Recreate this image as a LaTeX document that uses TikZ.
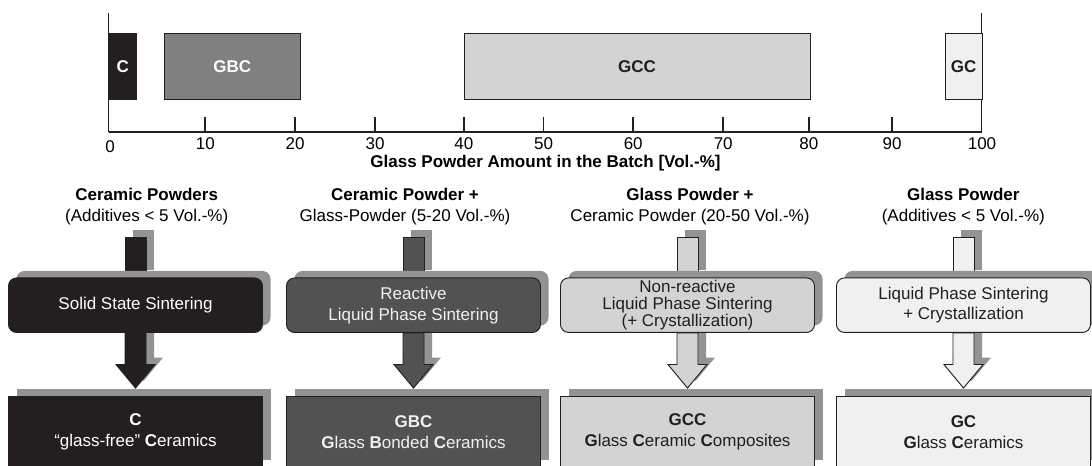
\documentclass[tikz,border=0pt]{standalone}
\usepackage{fontspec}
\setmainfont{Liberation Sans}
\usetikzlibrary{calc,backgrounds}

\definecolor{inkc}{HTML}{231F20}
\definecolor{darkgc}{HTML}{525252}
\definecolor{midgc}{HTML}{808080}
\definecolor{lightgc}{HTML}{D3D3D3}
\definecolor{palegc}{HTML}{F0F0F0}
\definecolor{shadowc}{HTML}{939393}

% one drawing unit = 0.75pt
\newcommand\pxu{0.75pt}

\tikzset{
  basefont/.style={font=\fontsize{12.75}{15.75}\selectfont},
  axisline/.style={draw=inkc, line width=1.3pt},
  sideline/.style={draw=inkc, line width=0.9pt},
  ticklab/.style={basefont, inner sep=0pt},
  bar/.style={draw=inkc, line width=0.6pt, minimum height=66*\pxu, inner sep=0pt,
    basefont, font=\fontsize{12.75}{15.75}\selectfont\bfseries},
  heading/.style={basefont, align=center, inner sep=0pt},
  dropshade/.style={preaction={fill=shadowc, transform canvas={shift={(6pt,5.25pt)}}}},
  procbox/.style={dropshade, draw=inkc, line width=0.7pt, rounded corners=6pt,
    minimum width=254*\pxu, minimum height=54.5*\pxu, align=center, inner sep=0pt, basefont},
  resbox/.style={dropshade, draw=inkc, line width=0.7pt,
    minimum width=254*\pxu, minimum height=70.5*\pxu, align=center, inner sep=0pt, basefont},
  arrowedge/.style={draw=inkc, line width=0.7pt, line join=miter},
  arrowshade/.style={fill=shadowc, transform canvas={shift={(6pt,5.25pt)}}},
}

% short shaft entering a process box from above
\newcommand\feedshaft[2]{%
  \path[arrowshade] ($(#1.north)+(-10.5,-40.5)$) rectangle ($(#1.north)+(10.5,0)$);
  \path[arrowedge, fill=#2] ($(#1.north)+(-10.5,-40.5)$) rectangle ($(#1.north)+(10.5,0)$);
}
% block arrow from a process box down to its product box
\newcommand\flowarrow[3]{%
  \path[arrowshade] ($(#1.south)+(-10.5,0)$) -- ($(#2.north)+(-10.5,-31.5)$)
    -- ($(#2.north)+(-19.5,-31.5)$) -- ($(#2.north)+(0,-8)$) -- ($(#2.north)+(19.5,-31.5)$)
    -- ($(#2.north)+(10.5,-31.5)$) -- ($(#1.south)+(10.5,0)$) -- cycle;
  \path[arrowedge, fill=#3] ($(#1.south)+(-10.5,0)$) -- ($(#2.north)+(-10.5,-31.5)$)
    -- ($(#2.north)+(-19.5,-31.5)$) -- ($(#2.north)+(0,-8)$) -- ($(#2.north)+(19.5,-31.5)$)
    -- ($(#2.north)+(10.5,-31.5)$) -- ($(#1.south)+(10.5,0)$) -- cycle;
}

\begin{document}
\begin{tikzpicture}[x=0.75pt, y=-0.75pt]
\useasboundingbox (0,0) rectangle (1092,466);
\clip (0,0) rectangle (1092,466);

% ---------- glass content scale ----------
\coordinate (ax0) at (108.7,131.7);
\coordinate (ax100) at (981.8,131.7);
\draw[sideline] (108.7,13) -- (ax0);
\draw[sideline] (981.8,13) -- (ax100);
\draw[axisline] (ax0) -- (ax100);
\foreach \v/\x in {10/205.3, 20/295, 30/375, 40/463.9, 50/543.6, 60/633.2, 70/723.2, 80/808.9, 90/892}{
  \draw[axisline] (\x,131.7) -- (\x,117);
  \node[ticklab] (t\v) at (\x,143.5) {\v};
}
\node[ticklab] (t0) at (110,147) {0};
\node[ticklab] (t100) at (982,143.5) {100};
\node[ticklab, font=\fontsize{12.75}{15.75}\selectfont\bfseries] (axtitle) at (545.5,163)
  {Glass Powder Amount in the Batch [Vol.-\%]};

\node[bar, fill=inkc, text=white, minimum width=28*\pxu] (barC) at (122.7,66.3) {C};
\node[bar, fill=midgc, text=white, minimum width=136.7*\pxu] (barGBC) at (232.35,66.3) {GBC};
\node[bar, fill=lightgc, text=inkc, minimum width=346.1*\pxu] (barGCC) at (636.95,66.3) {GCC};
\node[bar, fill=palegc, text=inkc, minimum width=36.6*\pxu] (barGC) at (963.7,66.3) {GC};

% ---------- starting powders ----------
\node[heading] (h1) at (146.7,207) {\textbf{Ceramic Powders}\\(Additives < 5 Vol.-\%)};
\node[heading] (h2) at (405,207) {\textbf{Ceramic Powder +}\\Glass-Powder (5-20 Vol.-\%)};
\node[heading] (h3) at (690,207) {\textbf{Glass Powder +}\\Ceramic Powder (20-50 Vol.-\%)};
\node[heading] (h4) at (963.3,207) {\textbf{Glass Powder}\\(Additives < 5 Vol.-\%)};

% ---------- sintering routes ----------
\node[procbox, fill=inkc, text=white] (p1) at (135.5,305.2) {Solid State Sintering};
\node[procbox, fill=darkgc, text=white!94!black] (p2) at (413.5,305.2) {Reactive\\Liquid Phase Sintering};
\node[procbox, fill=lightgc, text=inkc, font=\fontsize{12.75}{12.75}\selectfont] (p3) at (687.5,305.2)
  {Non-reactive\\Liquid Phase Sintering\\(+ Crystallization)};
\node[procbox, fill=palegc, text=inkc, font=\fontsize{12.75}{15}\selectfont] (p4) at (963.5,305.2)
  {Liquid Phase Sintering\\+ Crystallization};

% ---------- resulting materials ----------
\node[resbox, fill=inkc, text=white] (r1) at (135.5,431.75)
  {\textbf{C}\\“glass-free” \textbf{C}eramics};
\node[resbox, fill=darkgc, text=white!94!black] (r2) at (413.5,431.75)
  {\textbf{GBC}\\\textbf{G}lass \textbf{B}onded \textbf{C}eramics};
\node[resbox, fill=lightgc, text=inkc] (r3) at (687.5,431.75)
  {\textbf{GCC}\\\textbf{G}lass \textbf{C}eramic \textbf{C}omposites};
\node[resbox, fill=palegc, text=inkc] (r4) at (963.5,431.75)
  {\textbf{GC}\\\textbf{G}lass \textbf{C}eramics};

% ---------- arrows, behind the boxes ----------
\begin{scope}[on background layer]
  \feedshaft{p1}{inkc}
  \feedshaft{p2}{darkgc}
  \feedshaft{p3}{lightgc}
  \feedshaft{p4}{palegc}
  \flowarrow{p1}{r1}{inkc}
  \flowarrow{p2}{r2}{darkgc}
  \flowarrow{p3}{r3}{lightgc}
  \flowarrow{p4}{r4}{palegc}
\end{scope}
\end{tikzpicture}
\end{document}
